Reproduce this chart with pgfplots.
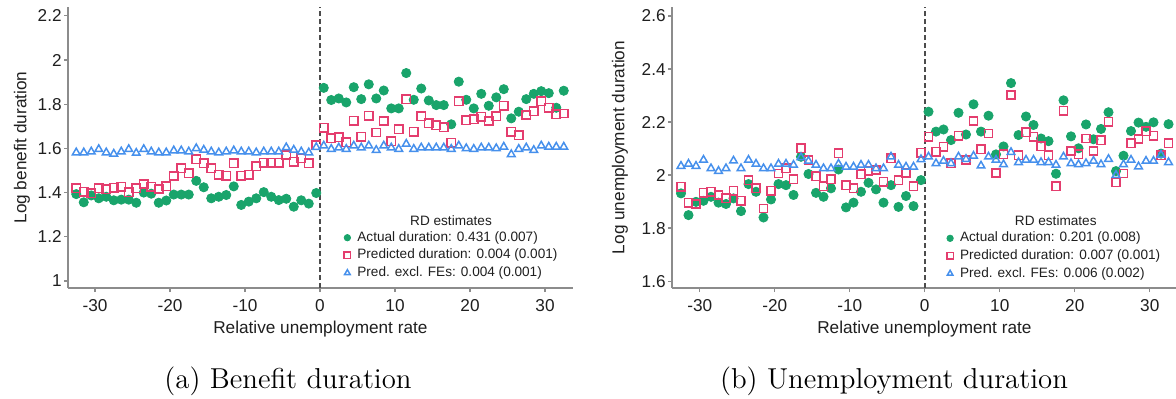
\documentclass[border=0pt]{standalone}
\usepackage{fontspec}
\usepackage{pgfplots}
\usepackage{pgfplotstable}
\pgfplotsset{compat=1.18}
\newfontfamily\arial{Liberation Sans}
\definecolor{cgreen}{HTML}{19A46B}
\definecolor{cpink}{HTML}{E43D6E}
\definecolor{cblue}{HTML}{4690EC}
\definecolor{axgray}{HTML}{8C8C8C}

\pgfplotstableread{
x act pred excl
-32.5 1.393 1.419 1.581
-31.5 1.356 1.404 1.581
-30.5 1.387 1.397 1.585
-29.5 1.374 1.419 1.596
-28.5 1.381 1.415 1.581
-27.5 1.365 1.422 1.575
-26.5 1.368 1.427 1.585
-25.5 1.368 1.401 1.596
-24.5 1.354 1.419 1.579
-23.5 1.400 1.439 1.596
-22.5 1.395 1.427 1.585
-21.5 1.354 1.416 1.581
-20.5 1.364 1.428 1.581
-19.5 1.391 1.475 1.590
-18.5 1.391 1.510 1.590
-17.5 1.391 1.487 1.585
-16.5 1.453 1.551 1.600
-15.5 1.424 1.532 1.593
-14.5 1.374 1.510 1.585
-13.5 1.381 1.480 1.581
-12.5 1.389 1.477 1.585
-11.5 1.428 1.532 1.590
-10.5 1.344 1.477 1.585
-9.5 1.359 1.480 1.585
-8.5 1.374 1.520 1.581
-7.5 1.402 1.535 1.585
-6.5 1.381 1.535 1.585
-5.5 1.366 1.535 1.585
-4.5 1.372 1.570 1.604
-3.5 1.336 1.540 1.593
-2.5 1.365 1.555 1.585
-1.5 1.350 1.532 1.581
-0.5 1.398 1.615 1.605
0.5 1.874 1.693 1.612
1.5 1.819 1.645 1.597
2.5 1.826 1.651 1.603
3.5 1.808 1.627 1.597
4.5 1.877 1.725 1.612
5.5 1.823 1.653 1.603
6.5 1.890 1.748 1.612
7.5 1.826 1.672 1.592
8.5 1.862 1.724 1.612
9.5 1.781 1.633 1.603
10.5 1.781 1.687 1.597
11.5 1.941 1.823 1.620
12.5 1.820 1.675 1.597
13.5 1.871 1.746 1.603
14.5 1.817 1.713 1.603
15.5 1.796 1.705 1.603
16.5 1.796 1.696 1.603
17.5 1.709 1.626 1.597
18.5 1.902 1.814 1.612
19.5 1.820 1.727 1.600
20.5 1.781 1.731 1.597
21.5 1.847 1.743 1.603
22.5 1.793 1.724 1.603
23.5 1.831 1.746 1.600
24.5 1.868 1.793 1.607
25.5 1.736 1.675 1.573
26.5 1.766 1.660 1.597
27.5 1.823 1.751 1.603
28.5 1.847 1.769 1.592
29.5 1.859 1.814 1.612
30.5 1.850 1.784 1.607
31.5 1.784 1.754 1.607
32.5 1.861 1.758 1.607
}\benefit

\pgfplotstableread{
x act pred excl
-32.5 1.931 1.956 2.034
-31.5 1.849 1.896 2.042
-30.5 1.899 1.891 2.034
-29.5 1.903 1.933 2.057
-28.5 1.918 1.937 2.025
-27.5 1.896 1.925 2.015
-26.5 1.891 1.912 2.025
-25.5 1.912 1.941 2.054
-24.5 1.864 1.903 2.025
-23.5 1.966 1.981 2.057
-22.5 1.937 1.950 2.042
-21.5 1.840 1.874 2.025
-20.5 1.908 1.941 2.025
-19.5 1.966 2.006 2.042
-18.5 1.962 2.025 2.042
-17.5 1.925 1.984 2.038
-16.5 2.069 2.101 2.067
-15.5 2.004 2.057 2.053
-14.5 1.933 1.996 2.038
-13.5 1.918 1.958 2.025
-12.5 1.950 1.984 2.025
-11.5 2.021 2.082 2.042
-10.5 1.878 1.962 2.031
-9.5 1.896 1.950 2.031
-8.5 1.937 2.003 2.038
-7.5 1.971 2.016 2.038
-6.5 1.946 2.019 2.025
-5.5 1.896 1.975 2.025
-4.5 1.962 2.063 2.069
-3.5 1.880 1.981 2.038
-2.5 1.921 2.009 2.031
-1.5 1.883 1.958 2.031
-0.5 1.981 2.084 2.059
0.5 2.239 2.145 2.069
1.5 2.164 2.088 2.044
2.5 2.172 2.107 2.053
3.5 2.132 2.044 2.044
4.5 2.235 2.148 2.069
5.5 2.153 2.057 2.060
6.5 2.267 2.204 2.072
7.5 2.164 2.098 2.035
8.5 2.224 2.157 2.069
9.5 2.078 2.008 2.057
10.5 2.108 2.078 2.040
11.5 2.347 2.302 2.086
12.5 2.151 2.075 2.048
13.5 2.221 2.161 2.057
14.5 2.189 2.145 2.057
15.5 2.138 2.109 2.048
16.5 2.128 2.075 2.048
17.5 2.005 1.958 2.038
18.5 2.282 2.242 2.069
19.5 2.146 2.091 2.044
20.5 2.101 2.078 2.040
21.5 2.191 2.138 2.044
22.5 2.135 2.091 2.053
23.5 2.174 2.132 2.040
24.5 2.237 2.201 2.060
25.5 2.015 1.972 2.000
26.5 2.073 2.006 2.040
27.5 2.166 2.120 2.057
28.5 2.198 2.136 2.032
29.5 2.182 2.166 2.053
30.5 2.199 2.148 2.053
31.5 2.081 2.075 2.076
32.5 2.192 2.120 2.048
}\unemp

\pgfplotsset{
  rdstyle/.style={
    scale only axis, width=252.375pt, height=140.5pt,
    axis lines=left,
    axis line style={-, draw=axgray, line width=0.6pt},
    tick align=outside, major tick length=2pt,
    tick style={draw=axgray, line width=0.6pt},
    xtick={-30,-20,-10,0,10,20,30},
    /pgf/number format/assume math mode=true,
    ticklabel style={font=\arial\fontsize{8.6}{10}\selectfont, text=black!88},
    yticklabel style={inner sep=1pt},
    xticklabel style={inner sep=3.5pt},
    xlabel={Relative unemployment rate},
    every axis x label/.style={at={(axis description cs:0.5,0)}, anchor=base, yshift=-22.5pt,
      font=\arial\fontsize{8.6}{10}\selectfont, text=black!88},
    legend cell align=left,
    legend image code/.code={\draw[##1,mark size=1.6pt] plot coordinates {(0pt,0pt)};},
    legend style={draw=none, fill=none, font=\arial\fontsize{6.8}{8}\selectfont,
      text=black!88, inner sep=0pt, row sep=2pt, column sep=3.4pt,
      nodes={inner sep=0pt, text height=5.2pt, text depth=1.6pt}, anchor=west},
    clip=false,
  },
  sact/.style={only marks, mark=*, mark size=2.3pt, mark options={draw=cgreen, fill=cgreen}},
  spred/.style={only marks, mark=square, mark size=2.1pt, mark options={draw=cpink, line width=0.75pt}},
  sexcl/.style={only marks, mark=triangle, mark size=2.2pt, mark options={draw=cblue, line width=0.75pt}},
  szero/.style={dash pattern=on 2.5pt off 1.5pt, draw=black!70, line width=0.75pt},
}

\begin{document}
\begin{tikzpicture}
\useasboundingbox (0,0) rectangle (588pt,199pt);

\begin{axis}[rdstyle, at={(34pt,55pt)}, anchor=south west,
  xmin=-33.6, xmax=33.7, ymin=0.968, ymax=2.240,
  ytick={1,1.2,1.4,1.6,1.8,2,2.2},
  yticklabels={1,1.2,1.4,1.6,1.8,2,2.2},
  ylabel={Log benefit duration},
  every axis y label/.style={at={(axis description cs:-0.0911,0.5)}, rotate=90, anchor=center,
    font=\arial\fontsize{8.6}{10}\selectfont, text=black!88},
  legend style={at={(axis cs:3.17,1.116)}},
]
\addplot[szero] coordinates {(0,0.968) (0,2.240)};
\addplot[sact] table[x=x,y=act] {\benefit};
\addplot[spred] table[x=x,y=pred] {\benefit};
\addplot[sexcl] table[x=x,y=excl] {\benefit};
\legend{,Actual duration: 0.431 (0.007),Predicted duration: 0.004 (0.001),Pred. excl. FEs: 0.004 (0.001)}
\node[font=\arial\fontsize{6.8}{8}\selectfont, text=black!88, anchor=base] at (axis cs:17.47,1.252) {RD estimates};
\end{axis}

\begin{axis}[rdstyle, at={(336pt,55pt)}, anchor=south west,
  xmin=-33.7, xmax=33.6, ymin=1.574, ymax=2.634,
  ytick={1.6,1.8,2,2.2,2.4,2.6},
  yticklabels={1.6,1.8,2,2.2,2.4,2.6},
  ylabel={Log unemployment duration},
  every axis y label/.style={at={(axis description cs:-0.103,0.5)}, rotate=90, anchor=center,
    font=\arial\fontsize{8.6}{10}\selectfont, text=black!88},
  legend style={at={(axis cs:2.9,1.695)}},
]
\addplot[szero] coordinates {(0,1.574) (0,2.634)};
\addplot[sact] table[x=x,y=act] {\unemp};
\addplot[spred] table[x=x,y=pred] {\unemp};
\addplot[sexcl] table[x=x,y=excl] {\unemp};
\legend{,Actual duration: 0.201 (0.008),Predicted duration: 0.007 (0.001),Pred. excl. FEs: 0.006 (0.002)}
\node[font=\arial\fontsize{6.8}{8}\selectfont, text=black!88, anchor=base] at (axis cs:17.47,1.810) {RD estimates};
\end{axis}

\node[font=\fontsize{14.4}{17}\selectfont, anchor=base] at (144pt,5pt) {(a) Benefit duration};
\node[font=\fontsize{14.4}{17}\selectfont, anchor=base] at (447pt,5pt) {(b) Unemployment duration};
\end{tikzpicture}
\end{document}
